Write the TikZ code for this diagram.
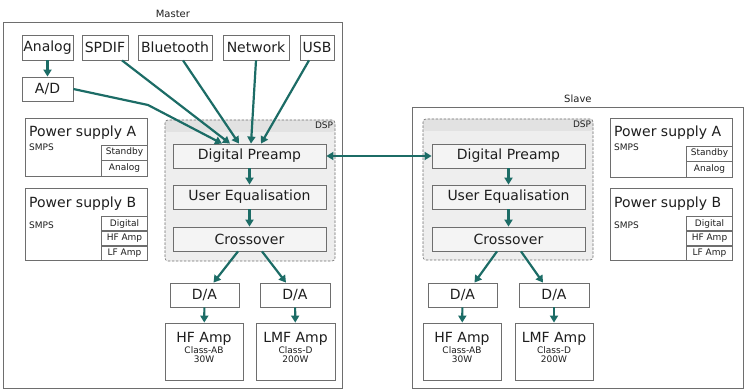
\documentclass[tikz,border=0pt]{standalone}
\usepackage{fontspec}
\setmainfont{DejaVu Sans}
\usetikzlibrary{arrows.meta,positioning}

\definecolor{wirecol}{RGB}{28,108,102}
\definecolor{edgegray}{RGB}{110,110,110}
\definecolor{dspgray}{RGB}{238,238,238}
\definecolor{bandgray}{RGB}{226,226,226}
\definecolor{stagegray}{RGB}{244,244,244}
\definecolor{inkgray}{RGB}{30,30,30}

\tikzset{
  big/.style={font=\fontsize{14}{16}\selectfont, text=inkgray, inner sep=0pt},
  tiny/.style={font=\fontsize{9}{10}\selectfont, text=inkgray, inner sep=0pt},
  caption/.style={font=\fontsize{10}{12}\selectfont, text=inkgray, inner sep=0pt},
  frame/.style={draw=edgegray, line width=0.8pt, anchor=north west, inner sep=0pt},
  blk/.style={draw=edgegray, line width=0.8pt, fill=white, big},
  stage/.style={blk, fill=stagegray, minimum width=153, minimum height=24},
  unit/.style={blk, anchor=north west, minimum width=122},
  cell/.style={draw=edgegray, line width=0.6pt, fill=white, tiny, minimum width=46, anchor=south east},
  dsp/.style={draw=edgegray, dash pattern=on 2.5pt off 1.5pt, line width=0.6pt, rounded corners=3pt, fill=dspgray,
    inner sep=0pt, minimum width=170, minimum height=141,
    path picture={\fill[bandgray] (path picture bounding box.north west)
      rectangle ([yshift=-12pt]path picture bounding box.north east);},
    label={[tiny, anchor=north east, inner sep=2pt]north east:DSP}},
  wire/.style={draw=wirecol, line width=2.2pt, -{Triangle[length=7pt,width=8pt]}},
}

% amplifier block: name, centre, width, title, class, power
\newcommand{\ampblock}[6]{%
  \node[blk, minimum width=#3, minimum height=57] (#1) at #2 {};
  \node[big, anchor=base] (#1t) at ([yshift=-19.5pt]#1.north) {#4};
  \node[tiny, anchor=base] (#1c) at ([yshift=-31pt]#1.north) {#5};
  \node[tiny, anchor=base] (#1p) at ([yshift=-40pt]#1.north) {#6};
}

\begin{document}
\begin{tikzpicture}[x=1pt,y=-1pt]
  \useasboundingbox (0,0) rectangle (746,390);

  % ---------------- Master ----------------
  \node[frame, minimum width=339, minimum height=366] (master) at (3,22) {};
  \node[caption, above=4pt of master.north] (masterlbl) {Master};

  % inputs
  \node[blk, minimum width=51, minimum height=25] (analog) at (47.5,47.5) {Analog};
  \node[blk, minimum width=46, minimum height=25] (spdif) at (105,47.5) {SPDIF};
  \node[blk, minimum width=74, minimum height=25] (bt) at (175,47.5) {Bluetooth};
  \node[blk, minimum width=66, minimum height=25] (net) at (256,47.5) {Network};
  \node[blk, minimum width=34, minimum height=25] (usb) at (317,47.5) {USB};
  \node[blk, minimum width=51, minimum height=24] (ad) at (47.5,89) {A/D};

  % power supplies
  \node[unit, minimum height=58] (psuA1) at (25,118) {};
  \node[big, anchor=base west] (psuA1t) at ([shift={(4pt,-19pt)}]psuA1.north west) {Power supply A};
  \node[tiny, anchor=base west] (psuA1s) at ([shift={(4pt,-33pt)}]psuA1.north west) {SMPS};
  \node[cell, minimum height=16] (psuA1b) at (psuA1.south east) {Analog};
  \node[cell, minimum height=15] (psuA1a) at (psuA1b.north east) {Standby};

  \node[unit, minimum height=72] (psuB1) at (25,188) {};
  \node[big, anchor=base west] (psuB1t) at ([shift={(4pt,-19pt)}]psuB1.north west) {Power supply B};
  \node[tiny, anchor=base west] (psuB1s) at ([shift={(4pt,-40pt)}]psuB1.north west) {SMPS};
  \node[cell, minimum height=14.3] (psuB1c) at (psuB1.south east) {LF Amp};
  \node[cell, minimum height=14.3] (psuB1b) at (psuB1c.north east) {HF Amp};
  \node[cell, minimum height=14.3] (psuB1a) at (psuB1b.north east) {Digital};

  % DSP chain
  \node[dsp] (dsp1) at (250,190.5) {};
  \node[stage] (pre1) at (249.5,156) {Digital Preamp};
  \node[stage] (eq1) at (249.5,197) {User Equalisation};
  \node[stage] (xo1) at (249.5,239) {Crossover};

  % outputs
  \node[blk, minimum width=69, minimum height=24] (daL1) at (204.5,295) {D/A};
  \node[blk, minimum width=70, minimum height=24] (daR1) at (295,295) {D/A};
  \ampblock{hf1}{(204,351.5)}{78}{HF Amp}{Class-AB}{30W}
  \ampblock{lmf1}{(295.5,351.5)}{79}{LMF Amp}{Class-D}{200W}

  % ---------------- Slave ----------------
  \node[frame, minimum width=331, minimum height=281] (slave) at (412,107) {};
  \node[caption, above=4pt of slave.north] (slavelbl) {Slave};

  \node[dsp] (dsp2) at (508,189.5) {};
  \node[stage] (pre2) at (508.5,156) {Digital Preamp};
  \node[stage] (eq2) at (508.5,197) {User Equalisation};
  \node[stage] (xo2) at (508.5,239) {Crossover};

  \node[unit, minimum height=59] (psuA2) at (610,118) {};
  \node[big, anchor=base west] (psuA2t) at ([shift={(4pt,-19pt)}]psuA2.north west) {Power supply A};
  \node[tiny, anchor=base west] (psuA2s) at ([shift={(4pt,-33pt)}]psuA2.north west) {SMPS};
  \node[cell, minimum height=16] (psuA2b) at (psuA2.south east) {Analog};
  \node[cell, minimum height=15] (psuA2a) at (psuA2b.north east) {Standby};

  \node[unit, minimum height=72] (psuB2) at (610,188) {};
  \node[big, anchor=base west] (psuB2t) at ([shift={(4pt,-19pt)}]psuB2.north west) {Power supply B};
  \node[tiny, anchor=base west] (psuB2s) at ([shift={(4pt,-40pt)}]psuB2.north west) {SMPS};
  \node[cell, minimum height=14.3] (psuB2c) at (psuB2.south east) {LF Amp};
  \node[cell, minimum height=14.3] (psuB2b) at (psuB2c.north east) {HF Amp};
  \node[cell, minimum height=14.3] (psuB2a) at (psuB2b.north east) {Digital};

  \node[blk, minimum width=69, minimum height=24] (daL2) at (462.5,295) {D/A};
  \node[blk, minimum width=70, minimum height=24] (daR2) at (554,295) {D/A};
  \ampblock{hf2}{(462,351.5)}{78}{HF Amp}{Class-AB}{30W}
  \ampblock{lmf2}{(554,351.5)}{78}{LMF Amp}{Class-D}{200W}

  % ---------------- connectors ----------------
  \draw[wire] (analog) -- (ad);
  \draw[wire] (ad.east) -- (148,105) -- ([xshift=-27.5pt]pre1.north);
  \draw[wire] ([xshift=17pt]spdif.south) -- ([xshift=-19.5pt]pre1.north);
  \draw[wire] ([xshift=8pt]bt.south) -- ([xshift=-10.5pt]pre1.north);
  \draw[wire] (net.south) -- ([xshift=1.5pt]pre1.north);
  \draw[wire] ([xshift=-8pt]usb.south) -- ([xshift=11.5pt]pre1.north);

  \draw[wire] (pre1) -- (eq1);
  \draw[wire] (eq1) -- (xo1);
  \draw[wire] ([xshift=-11.5pt]xo1.south) -- ([xshift=9pt]daL1.north);
  \draw[wire] ([xshift=12.5pt]xo1.south) -- ([xshift=-9pt]daR1.north);
  \draw[wire] (daL1) -- (hf1);
  \draw[wire] (daR1) -- (lmf1);

  % master to slave link
  \draw[wire, {Triangle[length=7pt,width=8pt]}-{Triangle[length=7pt,width=8pt]}] (pre1.east) -- (pre2.west);

  \draw[wire] (pre2) -- (eq2);
  \draw[wire] (eq2) -- (xo2);
  \draw[wire] ([xshift=-11.5pt]xo2.south) -- ([xshift=12pt]daL2.north);
  \draw[wire] ([xshift=12.5pt]xo2.south) -- ([xshift=-11pt]daR2.north);
  \draw[wire] (daL2) -- (hf2);
  \draw[wire] (daR2) -- (lmf2);
\end{tikzpicture}
\end{document}
